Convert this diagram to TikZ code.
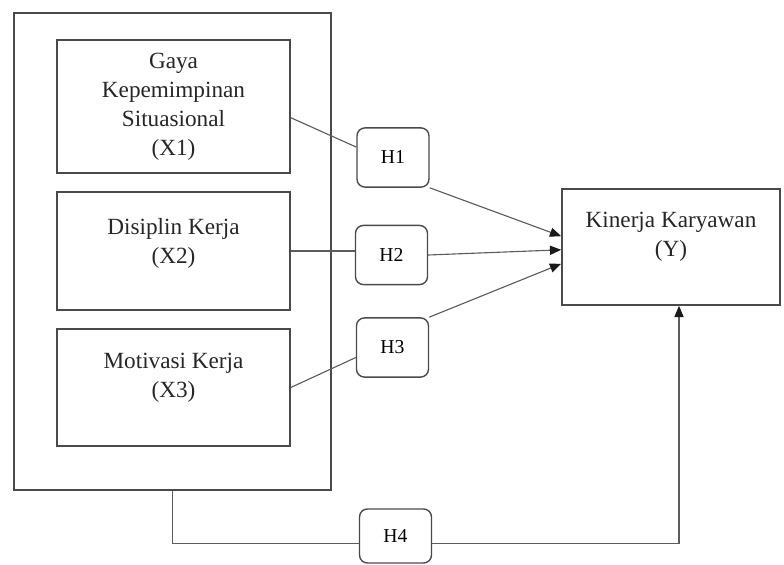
\documentclass[tikz,border=0pt]{standalone}
\usepackage{fontspec}
\setmainfont{Liberation Serif}
\usetikzlibrary{arrows.meta, positioning, calc}
\definecolor{boxgray}{HTML}{4A4A4A}
\definecolor{linegray}{HTML}{5C5C5C}

\begin{document}
\begin{tikzpicture}[x=0.025cm, y=-0.025cm,
  varbox/.style={rectangle, draw=boxgray, line width=1.1pt, minimum width=5.825cm, inner sep=0pt},
  hypbox/.style={rectangle, rounded corners=0.2cm, draw=boxgray, line width=1pt, minimum width=1.8cm, minimum height=1.48cm, font=\fontsize{14}{16}\selectfont},
  txt/.style={align=center, font=\fontsize{16.5}{20.6}\selectfont, text=black!85},
  link/.style={draw=linegray, line width=0.8pt},
  arrow/.style={link, -{Triangle[length=8pt, width=6.5pt, color=black!90]}}
]
  \useasboundingbox (0,0) rectangle (784,565);

  \node[varbox, minimum width=7.925cm, minimum height=11.925cm] (outer) at (172.5,251.5) {};
  \node[varbox, minimum height=3.325cm] (x1) at (173.5,106.5) {};
  \node[varbox, minimum height=2.95cm] (x2) at (173.5,251) {};
  \node[varbox, minimum height=2.925cm] (x3) at (173.5,387.5) {};
  \node[varbox, minimum width=5.45cm, minimum height=2.9cm] (y) at (671,247) {};

  \node[txt] (x1text) at (x1) {Gaya\\Kepemimpinan\\Situasional\\(X1)};
  \node[txt] (x2text) at ([yshift=0.2cm]x2.center) {Disiplin Kerja\\(X2)};
  \node[txt] (x3text) at ([yshift=0.25cm]x3.center) {Motivasi Kerja\\(X3)};
  \node[txt] (ytext) at ([yshift=0.25cm]y.center) {Kinerja Karyawan\\(Y)};

  \node[hypbox] (h1) at (393,157.5) {H1};
  \node[hypbox] (h2) at (391.5,255) {H2};
  \node[hypbox] (h3) at (392.5,347.5) {H3};
  \node[hypbox, minimum height=1.35cm] (h4) at (395.5,536) {H4};

  \draw[link] ([yshift=-0.28cm]x1.east) -- ([yshift=0.26cm]h1.west);
  \draw[link] (x2.east) -- (x2.east -| h2.west);
  \draw[link] (x3.east) -- ([yshift=-0.25cm]h3.west);
  \draw[link] (outer.south) |- ([yshift=-0.18cm]h4.west);

  \draw[arrow] (h1.south east) -- ([yshift=0.27cm]y.west);
  \draw[arrow] (h2.east) -- ([yshift=-0.07cm]y.west);
  \draw[arrow] (h3.north east) -- ([yshift=-0.42cm]y.west);
  \draw[arrow] ([yshift=-0.18cm]h4.east) -| ([xshift=0.2cm]y.south);
\end{tikzpicture}
\end{document}
